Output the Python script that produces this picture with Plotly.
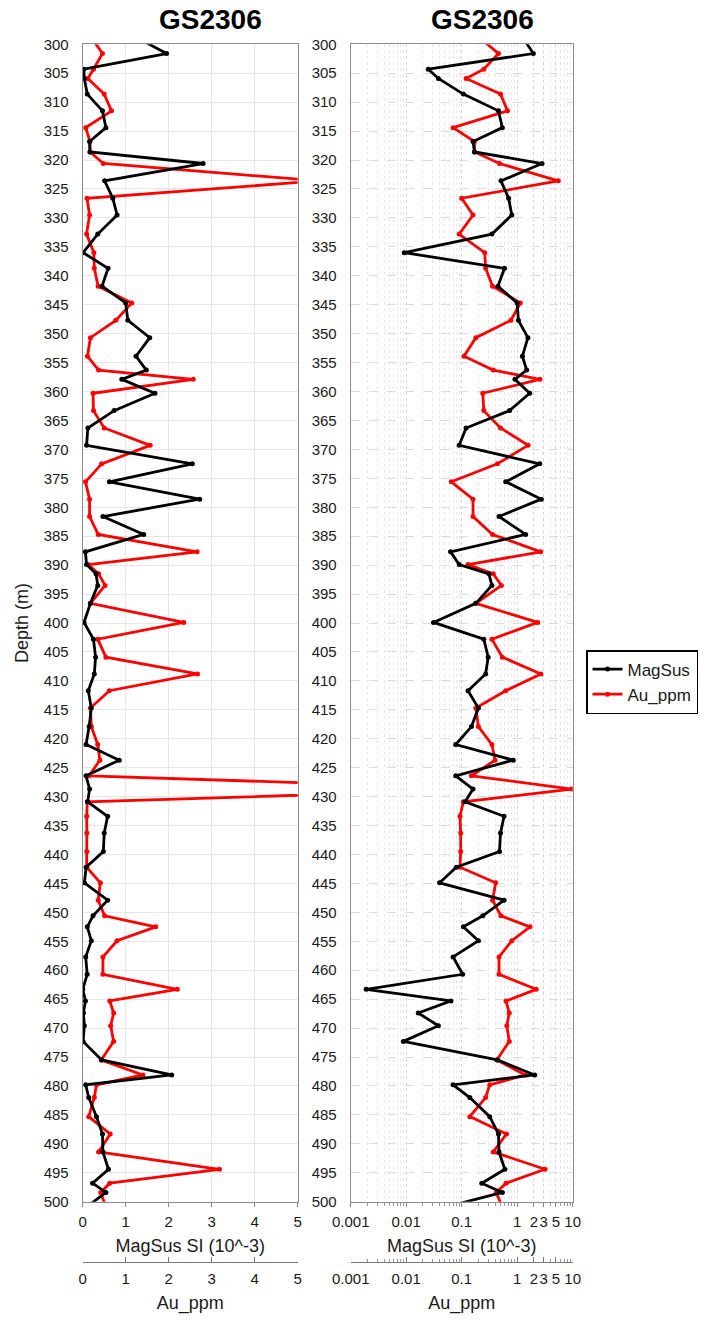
import plotly.graph_objects as go

# ---------------- data ----------------
depth = [299.0, 301.6, 304.3, 305.9, 308.6, 311.5, 314.4, 316.8, 318.6, 320.6,
         323.6, 326.6, 329.5, 332.8, 336.0, 338.7, 341.8, 344.7, 347.7, 350.7,
         353.9, 356.3, 357.9, 360.3, 363.3, 366.3, 369.3, 372.5, 375.6, 378.6,
         381.6, 384.7, 387.7, 389.9, 391.5, 393.5, 396.6, 399.9, 402.8, 405.9,
         408.8, 411.7, 414.7, 417.9, 421.0, 423.7, 426.4, 428.7, 430.9, 433.4,
         436.3, 439.5, 442.2, 444.9, 447.9, 450.6, 452.5, 454.9, 457.7, 460.7,
         463.3, 465.3, 467.4, 469.6, 472.3, 475.5, 478.1, 479.8, 482.0, 485.3,
         488.3, 491.4, 494.4, 496.8, 498.4, 501.2]

magsus = [1.3, 1.95, 0.025, 0.038, 0.107, 0.46, 0.54, 0.16, 0.17, 2.8,
          0.51, 0.70, 0.80, 0.35, 0.0092, 0.59, 0.45, 1.0, 1.05, 1.56,
          1.24, 1.48, 0.91, 1.68, 0.73, 0.12, 0.09, 2.55, 0.62, 2.72,
          0.47, 1.42, 0.063, 0.09, 0.31, 0.35, 0.18, 0.031, 0.25, 0.30,
          0.27, 0.13, 0.2, 0.15, 0.078, 0.85, 0.078, 0.16, 0.115, 0.58,
          0.5, 0.48, 0.08, 0.04, 0.58, 0.24, 0.107, 0.2, 0.07, 0.104,
          0.0019, 0.064, 0.0165, 0.038, 0.0089, 0.44, 2.07, 0.07, 0.14, 0.32,
          0.46, 0.47, 0.6, 0.23, 0.54, 0.04]

au_ppm = [0.22, 0.46, 0.25, 0.12, 0.50, 0.67, 0.07, 0.17, 0.17, 0.48,
          5.5, 0.1, 0.16, 0.09, 0.26, 0.27, 0.36, 1.14, 0.77, 0.18,
          0.11, 0.37, 2.57, 0.24, 0.25, 0.5, 1.57, 0.44, 0.065, 0.16,
          0.16, 0.36, 2.66, 0.13, 0.37, 0.52, 0.18, 2.35, 0.35, 0.54,
          2.67, 0.62, 0.18, 0.2, 0.35, 0.4, 0.15, 9.6, 0.107, 0.093,
          0.096, 0.096, 0.093, 0.41, 0.36, 0.51, 1.7, 0.8, 0.47, 0.47,
          2.2, 0.63, 0.72, 0.65, 0.72, 0.43, 1.4, 0.32, 0.27, 0.14,
          0.64, 0.37, 3.18, 0.63, 0.42, 0.55]

depth_ticks = list(range(300, 501, 5))
lin_ticks = [0, 1, 2, 3, 4, 5]
log_ticks = [0.001, 0.01, 0.1, 1, 2, 3, 5, 10]
log_ticktext = ["0.001", "0.01", "0.1", "1", "2", "3", "5", "10"]
log_minor = [m * 10 ** e for e in (-3, -2, -1, 0) for m in range(2, 10)]

title_text = "GS2306"
x_title = "MagSus SI (10^-3)"
x2_title = "Au_ppm"
y_title = "Depth (m)"

# ---------------- layout geometry ----------------
W, H = 708, 1320
FONT = "Liberation Sans, Arial, sans-serif"
TXT = "#1a1a1a"


def fx(p):
    return p / W


def fy(p):
    return 1 - p / H


ydom = [fy(1201.7), fy(44.3)]
xdomL = [fx(82.7), fx(297.7)]
xdomR = [fx(350.7), fx(572.7)]
pos2 = fy(1261.7)

fig = go.Figure()

line_k = dict(color="black", width=2.8)
line_r = dict(color="#ff0000", width=2.8)
mk_k = dict(color="black", size=5)
mk_r = dict(color="#ff0000", size=5)

fig.add_trace(go.Scatter(x=magsus, y=depth, name="MagSus", mode="lines+markers",
                         line=line_k, marker=mk_k, xaxis="x3", yaxis="y",
                         legendgroup="m"))
fig.add_trace(go.Scatter(x=au_ppm, y=depth, name="Au_ppm", mode="lines+markers",
                         line=line_r, marker=mk_r, xaxis="x", yaxis="y",
                         legendgroup="a"))
fig.add_trace(go.Scatter(x=magsus, y=depth, name="MagSus", mode="lines+markers",
                         line=line_k, marker=mk_k, xaxis="x4", yaxis="y2",
                         legendgroup="m", showlegend=False))
fig.add_trace(go.Scatter(x=au_ppm, y=depth, name="Au_ppm", mode="lines+markers",
                         line=line_r, marker=mk_r, xaxis="x2", yaxis="y2",
                         legendgroup="a", showlegend=False))

tickfont = dict(family=FONT, size=15, color=TXT)
titlefont = dict(family=FONT, size=18, color=TXT)

yaxis_common = dict(
    domain=ydom, range=[500, 300], tickvals=depth_ticks, ticks="",
    tickfont=tickfont, showline=True, linecolor="#8c8c8c", linewidth=1,
    mirror=True, zeroline=False, ticklabelstandoff=10, automargin=False,
)

fig.update_layout(
    template="none",
    width=W, height=H,
    margin=dict(l=0, r=0, t=0, b=0, autoexpand=False),
    paper_bgcolor="white", plot_bgcolor="white",
    font=dict(family=FONT, color=TXT),
    # --- left panel: Au_ppm axis (lower, free) ---
    xaxis=dict(domain=xdomL, range=[0, 5], anchor="free", position=pos2,
               side="bottom", tickvals=lin_ticks, ticks="inside", ticklen=5,
               tickcolor="#777", showline=True, linecolor="#777", linewidth=1,
               showgrid=True, gridcolor="#e6e6e6", gridwidth=1, zeroline=False,
               tickfont=tickfont, tickangle=0, ticklabelstandoff=3,
               automargin=False,
               title=dict(text=x2_title, font=titlefont, standoff=10)),
    # --- left panel: MagSus axis (at plot bottom) ---
    xaxis3=dict(overlaying="x", anchor="y", range=[0, 5], side="bottom",
                tickvals=lin_ticks, ticks="outside", ticklen=4, tickcolor="#888",
                showline=True, linecolor="#8c8c8c", mirror=True, showgrid=False,
                zeroline=False, tickfont=tickfont, tickangle=0,
                ticklabelstandoff=2, automargin=False,
                title=dict(text=x_title, font=titlefont, standoff=10)),
    yaxis=dict(anchor="x", showgrid=True, gridcolor="#e6e6e6",
               title=dict(text=y_title, font=titlefont, standoff=10),
               **yaxis_common),
    # --- right panel: Au_ppm log axis (lower, free) ---
    xaxis2=dict(domain=xdomR, type="log", range=[-3, 1], anchor="free",
                position=pos2, side="bottom", tickvals=log_ticks,
                ticktext=log_ticktext, ticks="inside", ticklen=5,
                tickcolor="#777", showline=True, linecolor="#777",
                showgrid=True, gridcolor="#d6d6d6", griddash="dot",
                zeroline=False, tickfont=tickfont, tickangle=0,
                ticklabelstandoff=3, automargin=False,
                minor=dict(tickvals=log_minor, ticks="inside", ticklen=3,
                           tickcolor="#999", showgrid=True,
                           gridcolor="#e8e8e8", griddash="dot"),
                title=dict(text=x2_title, font=titlefont, standoff=10)),
    # --- right panel: MagSus log axis (at plot bottom) ---
    xaxis4=dict(overlaying="x2", anchor="y2", type="log", range=[-3, 1],
                side="bottom", tickvals=log_ticks, ticktext=log_ticktext,
                ticks="outside", ticklen=4, tickcolor="#888", showline=True,
                linecolor="#8c8c8c", mirror=True, showgrid=False,
                zeroline=False, tickfont=tickfont, tickangle=0,
                ticklabelstandoff=2, automargin=False,
                minor=dict(tickvals=log_minor, ticks="outside", ticklen=3,
                           tickcolor="#999", showgrid=False),
                title=dict(text=x_title, font=titlefont, standoff=10)),
    yaxis2=dict(anchor="x2", showgrid=True, gridcolor="#dcdcdc",
                griddash="dash", **yaxis_common),
    legend=dict(x=fx(586), y=fy(650), xanchor="left", yanchor="top",
                bordercolor="black", borderwidth=1.5, bgcolor="white",
                font=dict(family=FONT, size=17, color=TXT),
                tracegroupgap=6, traceorder="normal"),
    annotations=[
        dict(text=f"<b>{title_text}</b>", x=fx(210.5), y=fy(20), xref="paper",
             yref="paper", showarrow=False, xanchor="center", yanchor="middle",
             font=dict(family=FONT, size=28, color="black")),
        dict(text=f"<b>{title_text}</b>", x=fx(482), y=fy(20), xref="paper",
             yref="paper", showarrow=False, xanchor="center", yanchor="middle",
             font=dict(family=FONT, size=28, color="black")),
    ],
)

fig.write_html("out.html")
